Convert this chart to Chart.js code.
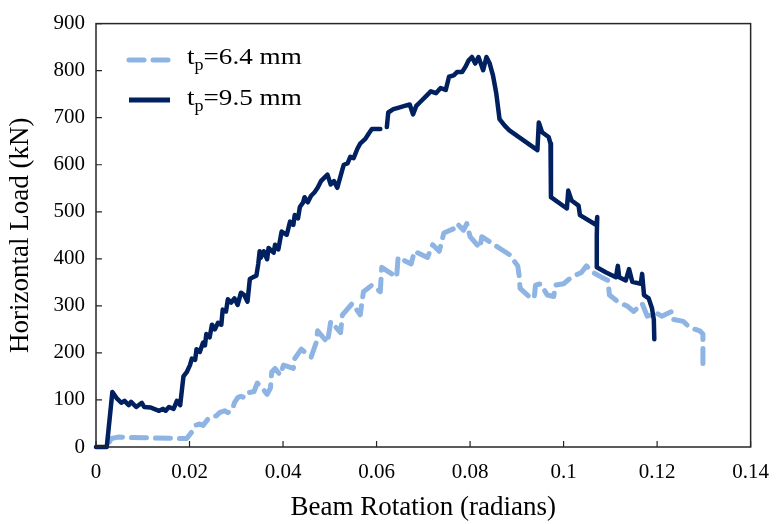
<!DOCTYPE html>
<html>
<head>
<meta charset="utf-8">
<script src="https://cdn.jsdelivr.net/npm/chart.js@4.4.1/dist/chart.umd.min.js"></script>
<style>
    html, body { margin: 0; padding: 0; background: #ffffff; }
    #wrap { width: 782px; height: 524px; }
</style>
</head>
<body>
<div id="wrap"><canvas id="loadChart" width="782" height="524"></canvas></div>
<script>
// Beam rotation vs horizontal load, two plate thicknesses

// tp = 6.4 mm (dashed, light blue)
const rot64 = [0.0029, 0.0033, 0.0047, 0.0128, 0.0194, 0.0205, 0.0212, 0.0222, 0.0229, 0.0240,
    0.0250, 0.0257, 0.0264, 0.0275, 0.0282, 0.0292, 0.0296, 0.0303, 0.0310, 0.0317,
    0.0324, 0.0338, 0.0345, 0.0352, 0.0366, 0.0373, 0.0376, 0.0383, 0.0394, 0.0401,
    0.0422, 0.0425, 0.0439, 0.0460, 0.0471, 0.0474, 0.0495, 0.0502, 0.0523, 0.0527,
    0.0548, 0.0565, 0.0572, 0.0590, 0.0608, 0.0611, 0.0643, 0.0646, 0.0674, 0.0681,
    0.0709, 0.0720, 0.0734, 0.0744, 0.0765, 0.0772, 0.0786, 0.0793, 0.0800, 0.0821,
    0.0825, 0.0856, 0.0884, 0.0902, 0.0905, 0.0907, 0.0926, 0.0937, 0.0940, 0.0951,
    0.0965, 0.0979, 0.0982, 0.1000, 0.1017, 0.1038, 0.1049, 0.1063, 0.1081, 0.1095,
    0.1098, 0.1116, 0.1137, 0.1150, 0.1168, 0.1179, 0.1200, 0.1210, 0.1231, 0.1235,
    0.1256, 0.1270, 0.1291, 0.1298, 0.1298, 0.1298];
const load64 = [11, 18, 21, 19, 18, 32, 46, 49, 46, 60,
    66, 66, 73, 77, 73, 80, 94, 105, 108, 105,
    115, 118, 136, 129, 112, 125, 160, 167, 153, 174,
    167, 188, 208, 191, 222, 247, 222, 267, 243, 281,
    305, 281, 330, 344, 330, 382, 361, 403, 389, 416,
    403, 430, 416, 455, 464, 475, 461, 475, 447, 423,
    447, 427, 409, 385, 364, 337, 320, 316, 344, 347,
    323, 320, 344, 347, 361, 371, 385, 371, 361, 354,
    323, 309, 299, 288, 305, 278, 284, 278, 288, 271,
    267, 254, 247, 240, 208, 170];

// tp = 9.5 mm (solid, navy); null marks the small break near 0.061
const rot95 = [0, 0.0023, 0.0035, 0.0044, 0.0054, 0.0061, 0.0070, 0.0075, 0.0086, 0.0098,
    0.0103, 0.0117, 0.0124, 0.0135, 0.0143, 0.0149, 0.0156, 0.0166, 0.0173, 0.0180,
    0.0187, 0.0194, 0.0201, 0.0205, 0.0212, 0.0215, 0.0222, 0.0229, 0.0233, 0.0236,
    0.0243, 0.0248, 0.0254, 0.0261, 0.0268, 0.0271, 0.0278, 0.0282, 0.0289, 0.0296,
    0.0303, 0.0310, 0.0317, 0.0324, 0.0329, 0.0336, 0.0343, 0.0347, 0.0350, 0.0352,
    0.0359, 0.0366, 0.0369, 0.0380, 0.0383, 0.0390, 0.0397, 0.0408, 0.0415, 0.0422,
    0.0425, 0.0432, 0.0436, 0.0443, 0.0446, 0.0453, 0.0460, 0.0467, 0.0474, 0.0481,
    0.0488, 0.0495, 0.0502, 0.0509, 0.0516, 0.0527, 0.0530, 0.0538, 0.0544, 0.0551,
    0.0559, 0.0565, 0.0576, 0.0583, 0.0590, 0.0601, 0.0608, 0.0615, 0.0622, 0.0625,
    0.0636, 0.0646, 0.0660, 0.0671, 0.0678, 0.0685, 0.0695, 0.0706, 0.0716, 0.0727,
    0.0737, 0.0748, 0.0755, 0.0765, 0.0772, 0.0783, 0.0790, 0.0797, 0.0804, 0.0811,
    0.0818, 0.0828, 0.0835, 0.0842, 0.0849, 0.0856, 0.0863, 0.0874, 0.0884, 0.0944,
    0.0947, 0.0954, 0.0968, 0.0972, 0.0973, 0.0973, 0.1007, 0.1010, 0.1017, 0.1032,
    0.1035, 0.1070, 0.1072, 0.1071, 0.1071, 0.1091, 0.1112, 0.1116, 0.1119, 0.1133,
    0.1140, 0.1147, 0.1165, 0.1168, 0.1172, 0.1182, 0.1189, 0.1193, 0.1194];
const load95 = [0, 0, 117, 104, 94, 98, 89, 96, 85, 94,
    85, 84, 81, 77, 81, 77, 85, 81, 98, 89,
    150, 159, 174, 188, 185, 208, 202, 222, 216, 240,
    233, 260, 250, 264, 260, 292, 288, 314, 307, 316,
    302, 328, 323, 309, 357, 361, 364, 389, 416, 402,
    416, 399, 423, 413, 430, 420, 458, 451, 479, 472,
    493, 486, 510, 520, 531, 520, 534, 541, 551, 565,
    572, 579, 558, 565, 551, 590, 600, 603, 617, 614,
    634, 645, 655, 666, 676, 676, 676, null, 680, 711,
    718, 721, 725, 728, 707, 725, 735, 746, 756, 752,
    763, 759, 787, 790, 797, 797, 808, 822, 829, 815,
    829, 801, 829, 815, 790, 752, 697, 683, 673, 631,
    690, 669, 659, 645, 562, 531, 507, 545, 524, 513,
    493, 472, 489, 451, 382, 371, 361, 385, 361, 354,
    378, 351, 347, 368, 323, 316, 295, 271, 229];

const xTicks = [0, 0.02, 0.04, 0.06, 0.08, 0.1, 0.12, 0.14];
const yTicks = [0, 100, 200, 300, 400, 500, 600, 700, 800, 900];

const colors = {
    thin: '#8db4e2',
    thick: '#002060',
    frame: '#262626',
    text: '#000000'
};

const serif = '"Liberation Serif", "Times New Roman", serif';

const legendItems = [
    { sub: 'p', rest: '=6.4 mm', color: colors.thin, dash: [15, 9] },
    { sub: 'p', rest: '=9.5 mm', color: colors.thick, dash: [] }
];

function toPoints(xs, ys) {
    return xs.map((x, i) => ({ x: x, y: ys[i] }));
}

// Frame box, inward tick marks and the in-plot legend
const framePlugin = {
    id: 'frame',
    afterDraw(chart) {
        const { ctx, chartArea: a, scales } = chart;
        ctx.save();
        ctx.strokeStyle = colors.frame;
        ctx.lineWidth = 1.5;
        ctx.strokeRect(a.left, a.top, a.right - a.left, a.bottom - a.top);

        ctx.lineWidth = 1.2;
        ctx.beginPath();
        xTicks.forEach(v => {
            const px = scales.x.getPixelForValue(v);
            ctx.moveTo(px, a.bottom);
            ctx.lineTo(px, a.bottom - 6);
        });
        yTicks.forEach(v => {
            const py = scales.y.getPixelForValue(v);
            ctx.moveTo(a.left, py);
            ctx.lineTo(a.left + 6, py);
        });
        ctx.stroke();

        // legend
        legendItems.forEach((item, i) => {
            const lineY = 60 + i * 40;
            const baseY = 64 + i * 41;
            ctx.save();
            ctx.strokeStyle = item.color;
            ctx.lineWidth = 5;
            ctx.lineCap = item.dash.length ? 'round' : 'butt';
            ctx.setLineDash(item.dash);
            ctx.beginPath();
            ctx.moveTo(129, lineY);
            ctx.lineTo(170, lineY);
            ctx.stroke();
            ctx.restore();

            ctx.save();
            ctx.fillStyle = colors.text;
            ctx.textBaseline = 'alphabetic';
            ctx.translate(187, baseY);
            ctx.scale(1.13, 1);
            ctx.font = '24px ' + serif;
            ctx.fillText('t', 0, 0);
            let x = ctx.measureText('t').width;
            ctx.font = '16px ' + serif;
            ctx.fillText(item.sub, x, 6);
            x += ctx.measureText(item.sub).width;
            ctx.font = '24px ' + serif;
            ctx.fillText(item.rest, x, 0);
            ctx.restore();
        });
        ctx.restore();
    }
};

function renderChart() {
    const ctx = document.getElementById('loadChart').getContext('2d');

    new Chart(ctx, {
        type: 'line',
        data: {
            datasets: [
                {
                    label: 'tp=6.4 mm',
                    data: toPoints(rot64, load64),
                    borderColor: colors.thin,
                    borderWidth: 5,
                    borderDash: [15, 9],
                    borderCapStyle: 'round',
                    borderJoinStyle: 'round',
                    pointRadius: 0,
                    tension: 0,
                    order: 1,
                    fill: false
                },
                {
                    label: 'tp=9.5 mm',
                    data: toPoints(rot95, load95),
                    borderColor: colors.thick,
                    borderWidth: 4.5,
                    borderCapStyle: 'round',
                    borderJoinStyle: 'round',
                    pointRadius: 0,
                    tension: 0,
                    spanGaps: false,
                    clip: 4,
                    order: 0,
                    fill: false
                }
            ]
        },
        options: {
            responsive: false,
            devicePixelRatio: 1,
            animation: false,
            layout: { padding: { left: 0, right: 20, top: 14, bottom: 0 } },
            plugins: {
                legend: { display: false },
                tooltip: { enabled: false }
            },
            scales: {
                x: {
                    type: 'linear',
                    min: 0,
                    max: 0.14,
                    afterFit: scale => { scale.height = 77; },
                    afterBuildTicks: scale => { scale.ticks = xTicks.map(v => ({ value: v })); },
                    grid: { display: false, drawTicks: false },
                    border: { display: false },
                    ticks: {
                        padding: 13,
                        color: colors.text,
                        font: { family: serif, size: 21 },
                        maxRotation: 0,
                        callback: value => String(Number(value.toFixed(2)))
                    },
                    title: {
                        display: true,
                        text: 'Beam Rotation (radians)',
                        color: colors.text,
                        font: { family: serif, size: 27 },
                        padding: { top: 0, bottom: 0 }
                    }
                },
                y: {
                    min: 0,
                    max: 900,
                    afterFit: scale => { scale.width = 96; },
                    afterBuildTicks: scale => { scale.ticks = yTicks.map(v => ({ value: v })); },
                    grid: { display: false, drawTicks: false },
                    border: { display: false },
                    ticks: {
                        padding: 11,
                        color: colors.text,
                        font: { family: serif, size: 21 }
                    },
                    title: {
                        display: true,
                        text: 'Horizontal Load (kN)',
                        color: colors.text,
                        font: { family: serif, size: 27 },
                        padding: { top: 5, bottom: 0 }
                    }
                }
            }
        },
        plugins: [framePlugin]
    });
}

document.addEventListener('DOMContentLoaded', renderChart);
</script>
</body>
</html>
